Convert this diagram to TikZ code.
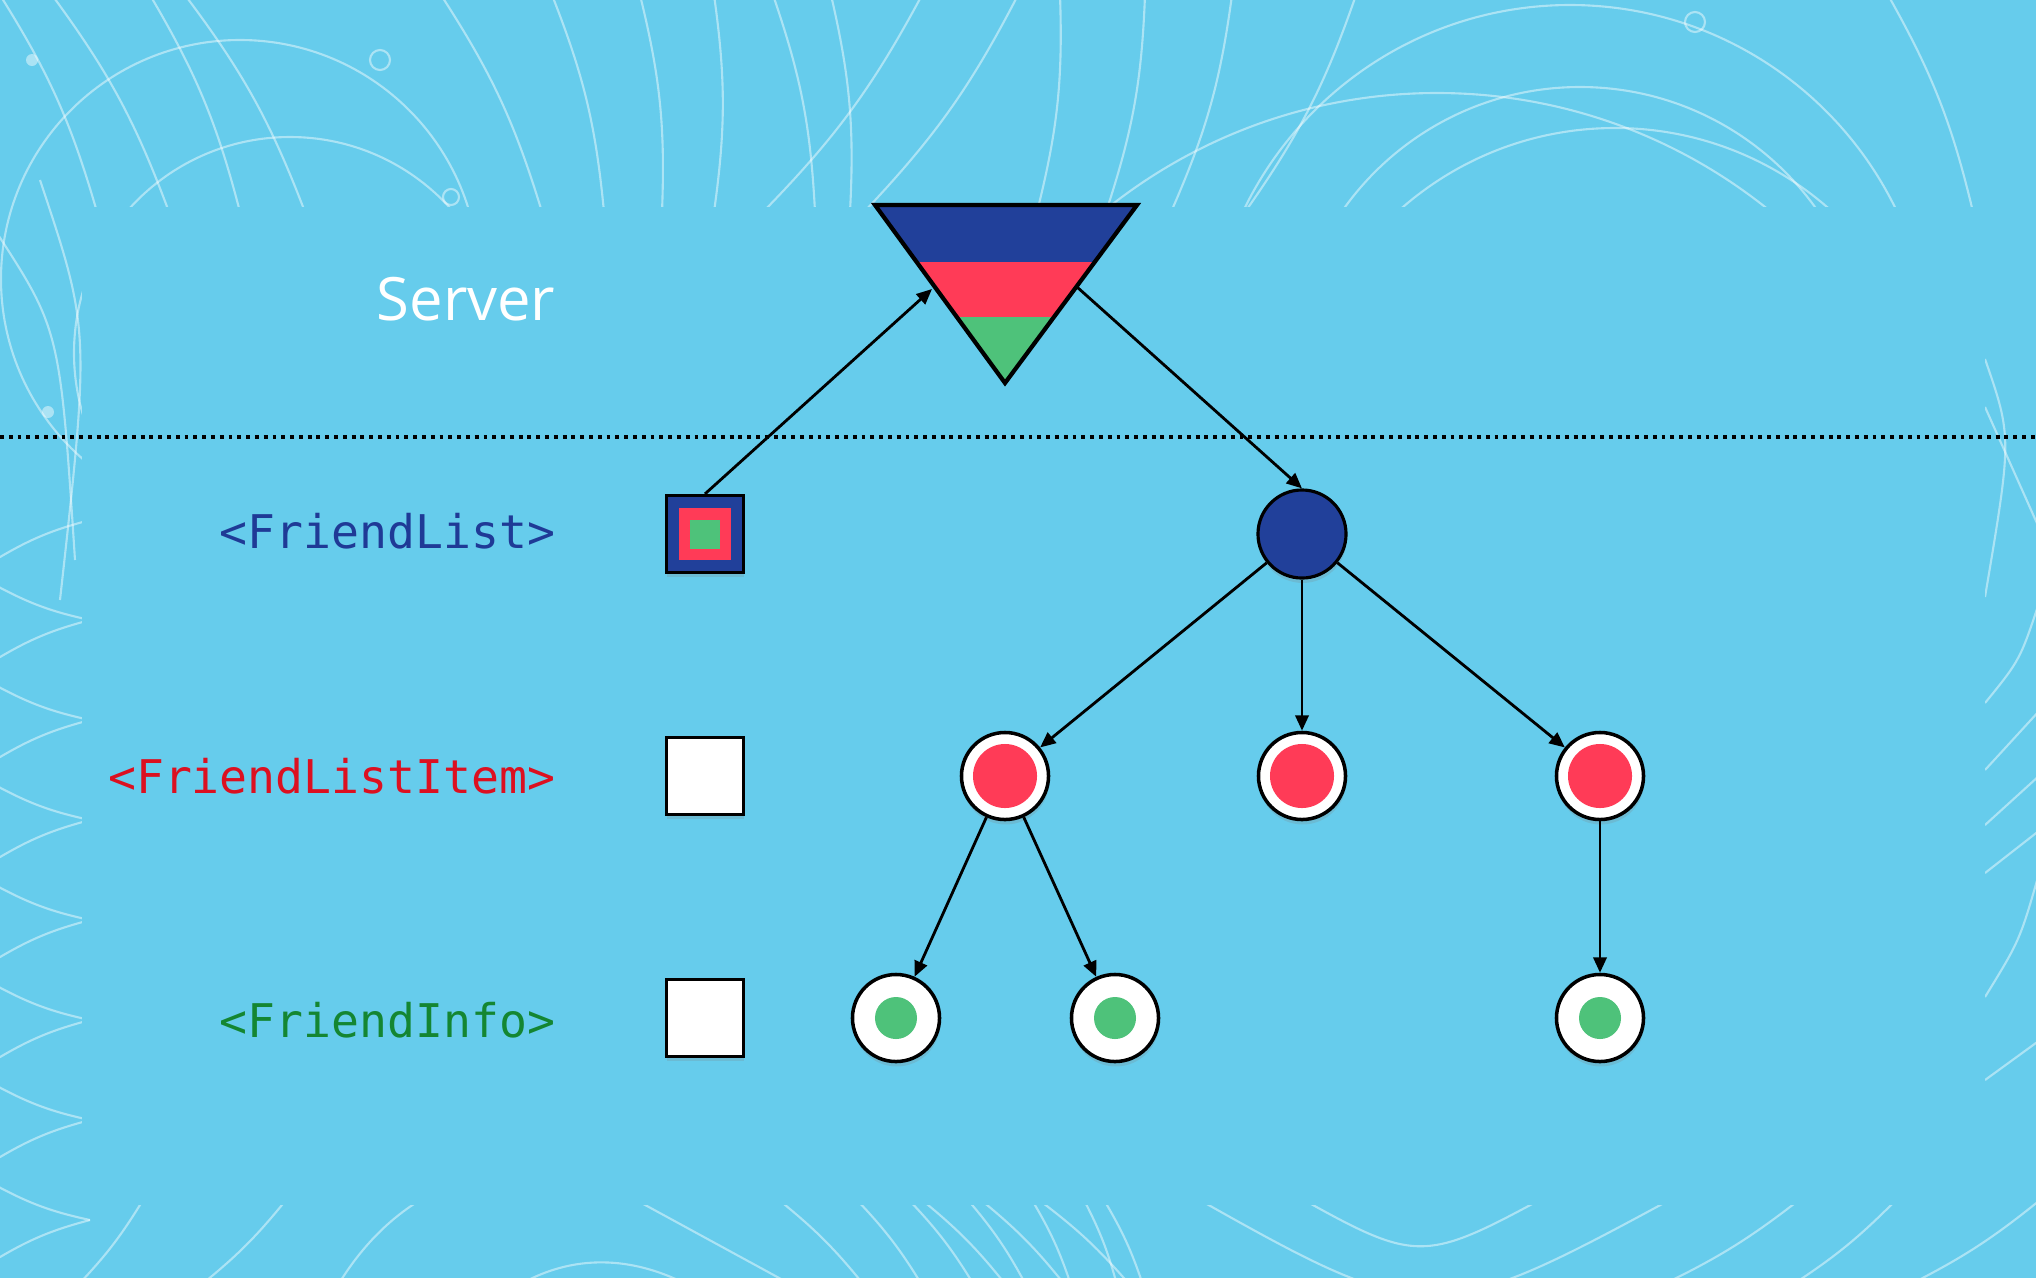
\documentclass[tikz,border=0pt]{standalone}
\usepackage{fontspec}
\setmainfont{Open Sans}
\newfontfamily\codefont{DejaVu Sans Mono}
\usetikzlibrary{arrows.meta,shadows}

\definecolor{bgBlue}{RGB}{102,204,236}
\definecolor{frNavy}{RGB}{33,64,154}
\definecolor{frRed}{RGB}{255,59,87}
\definecolor{frGreen}{RGB}{78,194,122}
\definecolor{txtBlue}{RGB}{31,58,150}
\definecolor{txtRed}{RGB}{220,16,32}
\definecolor{txtGreen}{RGB}{20,134,50}

\tikzset{
  softshadow/.style={drop shadow={shadow xshift=0.2pt, shadow yshift=-1.4pt, opacity=0.22}},
  tagtext/.style={anchor=base east, inner sep=0pt, font=\codefont\fontsize{13.2}{16}\selectfont},
  boxnode/.style={rectangle, draw=black, line width=0.9pt, fill=white, minimum size=0.77cm, inner sep=0pt, softshadow},
  ringnode/.style={circle, draw=black, line width=1pt, fill=white, minimum size=0.87cm, inner sep=0pt, softshadow},
  itemnode/.style={ringnode, path picture={\fill[frRed] (path picture bounding box.center) circle (0.32cm);}},
  infonode/.style={ringnode, path picture={\fill[frGreen] (path picture bounding box.center) circle (0.21cm);}},
  conn/.style={-{Triangle[length=4.4pt,width=3.8pt]}, line width=0.8pt},
  bgline/.style={white, opacity=0.45, line width=0.6pt}
}

\begin{document}
\begin{tikzpicture}[x=0.01cm, y=-0.01cm]
\useasboundingbox (0,0) rectangle (2036,1278);
\fill[bgBlue] (0,0) rectangle (2036,1278);

% background arcs, only in the margins
\begin{scope}
\clip (0,0) rectangle (2036,1278);
\draw[bgline] (240,279) circle (239);
\draw[bgline] (290,353) circle (216);
\draw[bgline] (1437,622) circle (529);
\draw[bgline] (1580,377) circle (290);
\draw[bgline] (1570,367) circle (362);
\draw[bgline] (1615,452) circle (324);
\foreach \a/\b in {0/97, 52/169, 150/240, 185/305, 441/542, 552/604, 640/662, 714/714, 922/763, 773/815, 831/850, 1018/864, 1060/1037, 1145/1106, 1232/1171, 1356/1245, 1888/1973}
  \draw[bgline] (\a,-5) to[bend left=8] (\b,212);
\foreach \y in {560,660,...,1260} {
  \draw[bgline] (-5,\y) to[bend left=8] (90,\y-40);
  \draw[bgline] (-5,\y+25) to[bend right=8] (90,\y+60);
}
\draw[bgline] (-5,230) .. controls (60,330) .. (75,560);
\draw[bgline] (40,180) .. controls (90,330) .. (60,600);
\draw[bgline] (1985,359) .. controls (2012,437) .. (1985,597);
\draw[bgline] (1985,407) -- (2040,530);
\draw[bgline] (2040,600) .. controls (2020,660) .. (1985,703);
\draw[bgline] (1985,770) -- (2040,710);
\draw[bgline] (1985,825) -- (2040,775);
\draw[bgline] (1985,873) -- (2040,830);
\draw[bgline] (2040,870) .. controls (2020,940) .. (1985,997);
\draw[bgline] (1985,1080) -- (2040,1040);
\foreach \a/\b in {143/78, 286/201, 779/864, 857/922, 909/974, 922/1006, 968/1026, 981/1065, 1032/1071, 1039/1130, 1084/1117, 1104/1143, 1799/1662, 1896/1792, 2040/1909}
  \draw[bgline] (\a,1200) to[bend left=6] (\b,1285);
\draw[bgline] (1286,1190) .. controls (1420,1265) .. (1558,1190);
\draw[bgline] (1182,1190) .. controls (1430,1330) .. (1688,1190);
\draw[bgline] (338,1285) .. controls (420,1150) and (560,1150) .. (636,1200) -- (792,1285);
\draw[bgline] (519,1285) .. controls (580,1250) and (640,1260) .. (688,1285);
\fill[white, opacity=0.45] (32,60) circle (6);
\fill[white, opacity=0.45] (48,412) circle (6);
\draw[bgline] (380,60) circle (10);
\draw[bgline] (451,197) circle (8);
\draw[bgline] (1695,22) circle (10);
\end{scope}
\fill[bgBlue] (82,207) rectangle (1985,1205);

% layer labels
\node[anchor=base east, inner sep=0pt, text=white, font=\fontsize{17}{20}\selectfont] (srvLabel) at (556,320) {Server};
\node[tagtext, text=txtBlue] (lblList) at (556,548) {<FriendList>};
\node[tagtext, text=txtRed] (lblItem) at (556,793) {<FriendListItem>};
\node[tagtext, text=txtGreen] (lblInfo) at (556,1037) {<FriendInfo>};

\draw[line width=0.9pt, dash pattern=on 1.1pt off 1.4pt] (0,437) -- (2036,437);

% server triangle
\coordinate (srvTL) at (875,205);
\coordinate (srvTR) at (1137,205);
\coordinate (srvTip) at (1005,383);
\coordinate (srvIn) at (932,289);
\coordinate (srvOut) at (1077,287);
\begin{scope}
\clip (srvTL) -- (srvTR) -- (srvTip) -- cycle;
\fill[frNavy] (860,195) rectangle (1150,262);
\fill[frRed] (860,262) rectangle (1150,317);
\fill[frGreen] (860,317) rectangle (1150,395);
\end{scope}
\draw[line width=1.2pt, line join=miter] (srvTL) -- (srvTR) -- (srvTip) -- cycle;

% legend squares
\node[boxnode, fill=frNavy, path picture={
  \fill[frRed] (path picture bounding box.center) +(-0.26cm,-0.26cm) rectangle +(0.26cm,0.26cm);
  \fill[frGreen] (path picture bounding box.center) +(-0.145cm,-0.145cm) rectangle +(0.145cm,0.145cm);}] (sqList) at (705,534) {};
\node[boxnode] (sqItem) at (705,776) {};
\node[boxnode] (sqInfo) at (705,1018) {};

% tree
\node[circle, draw=black, line width=0.9pt, fill=frNavy, minimum size=0.88cm, inner sep=0pt, softshadow] (root) at (1302,534) {};
\node[itemnode] (item1) at (1005,776) {};
\node[itemnode] (item2) at (1302,776) {};
\node[itemnode] (item3) at (1600,776) {};
\node[infonode] (info1) at (896,1018) {};
\node[infonode] (info2) at (1115,1018) {};
\node[infonode] (info3) at (1600,1018) {};

\draw[conn] (sqList.north) -- (srvIn);
\draw[conn] (srvOut) -- (root.north);
\draw[conn] (root) -- (item1);
\draw[conn] (root) -- (item2);
\draw[conn] (root) -- (item3);
\draw[conn] (item1) -- (info1);
\draw[conn] (item1) -- (info2);
\draw[conn] (item3) -- (info3);
\end{tikzpicture}
\end{document}
